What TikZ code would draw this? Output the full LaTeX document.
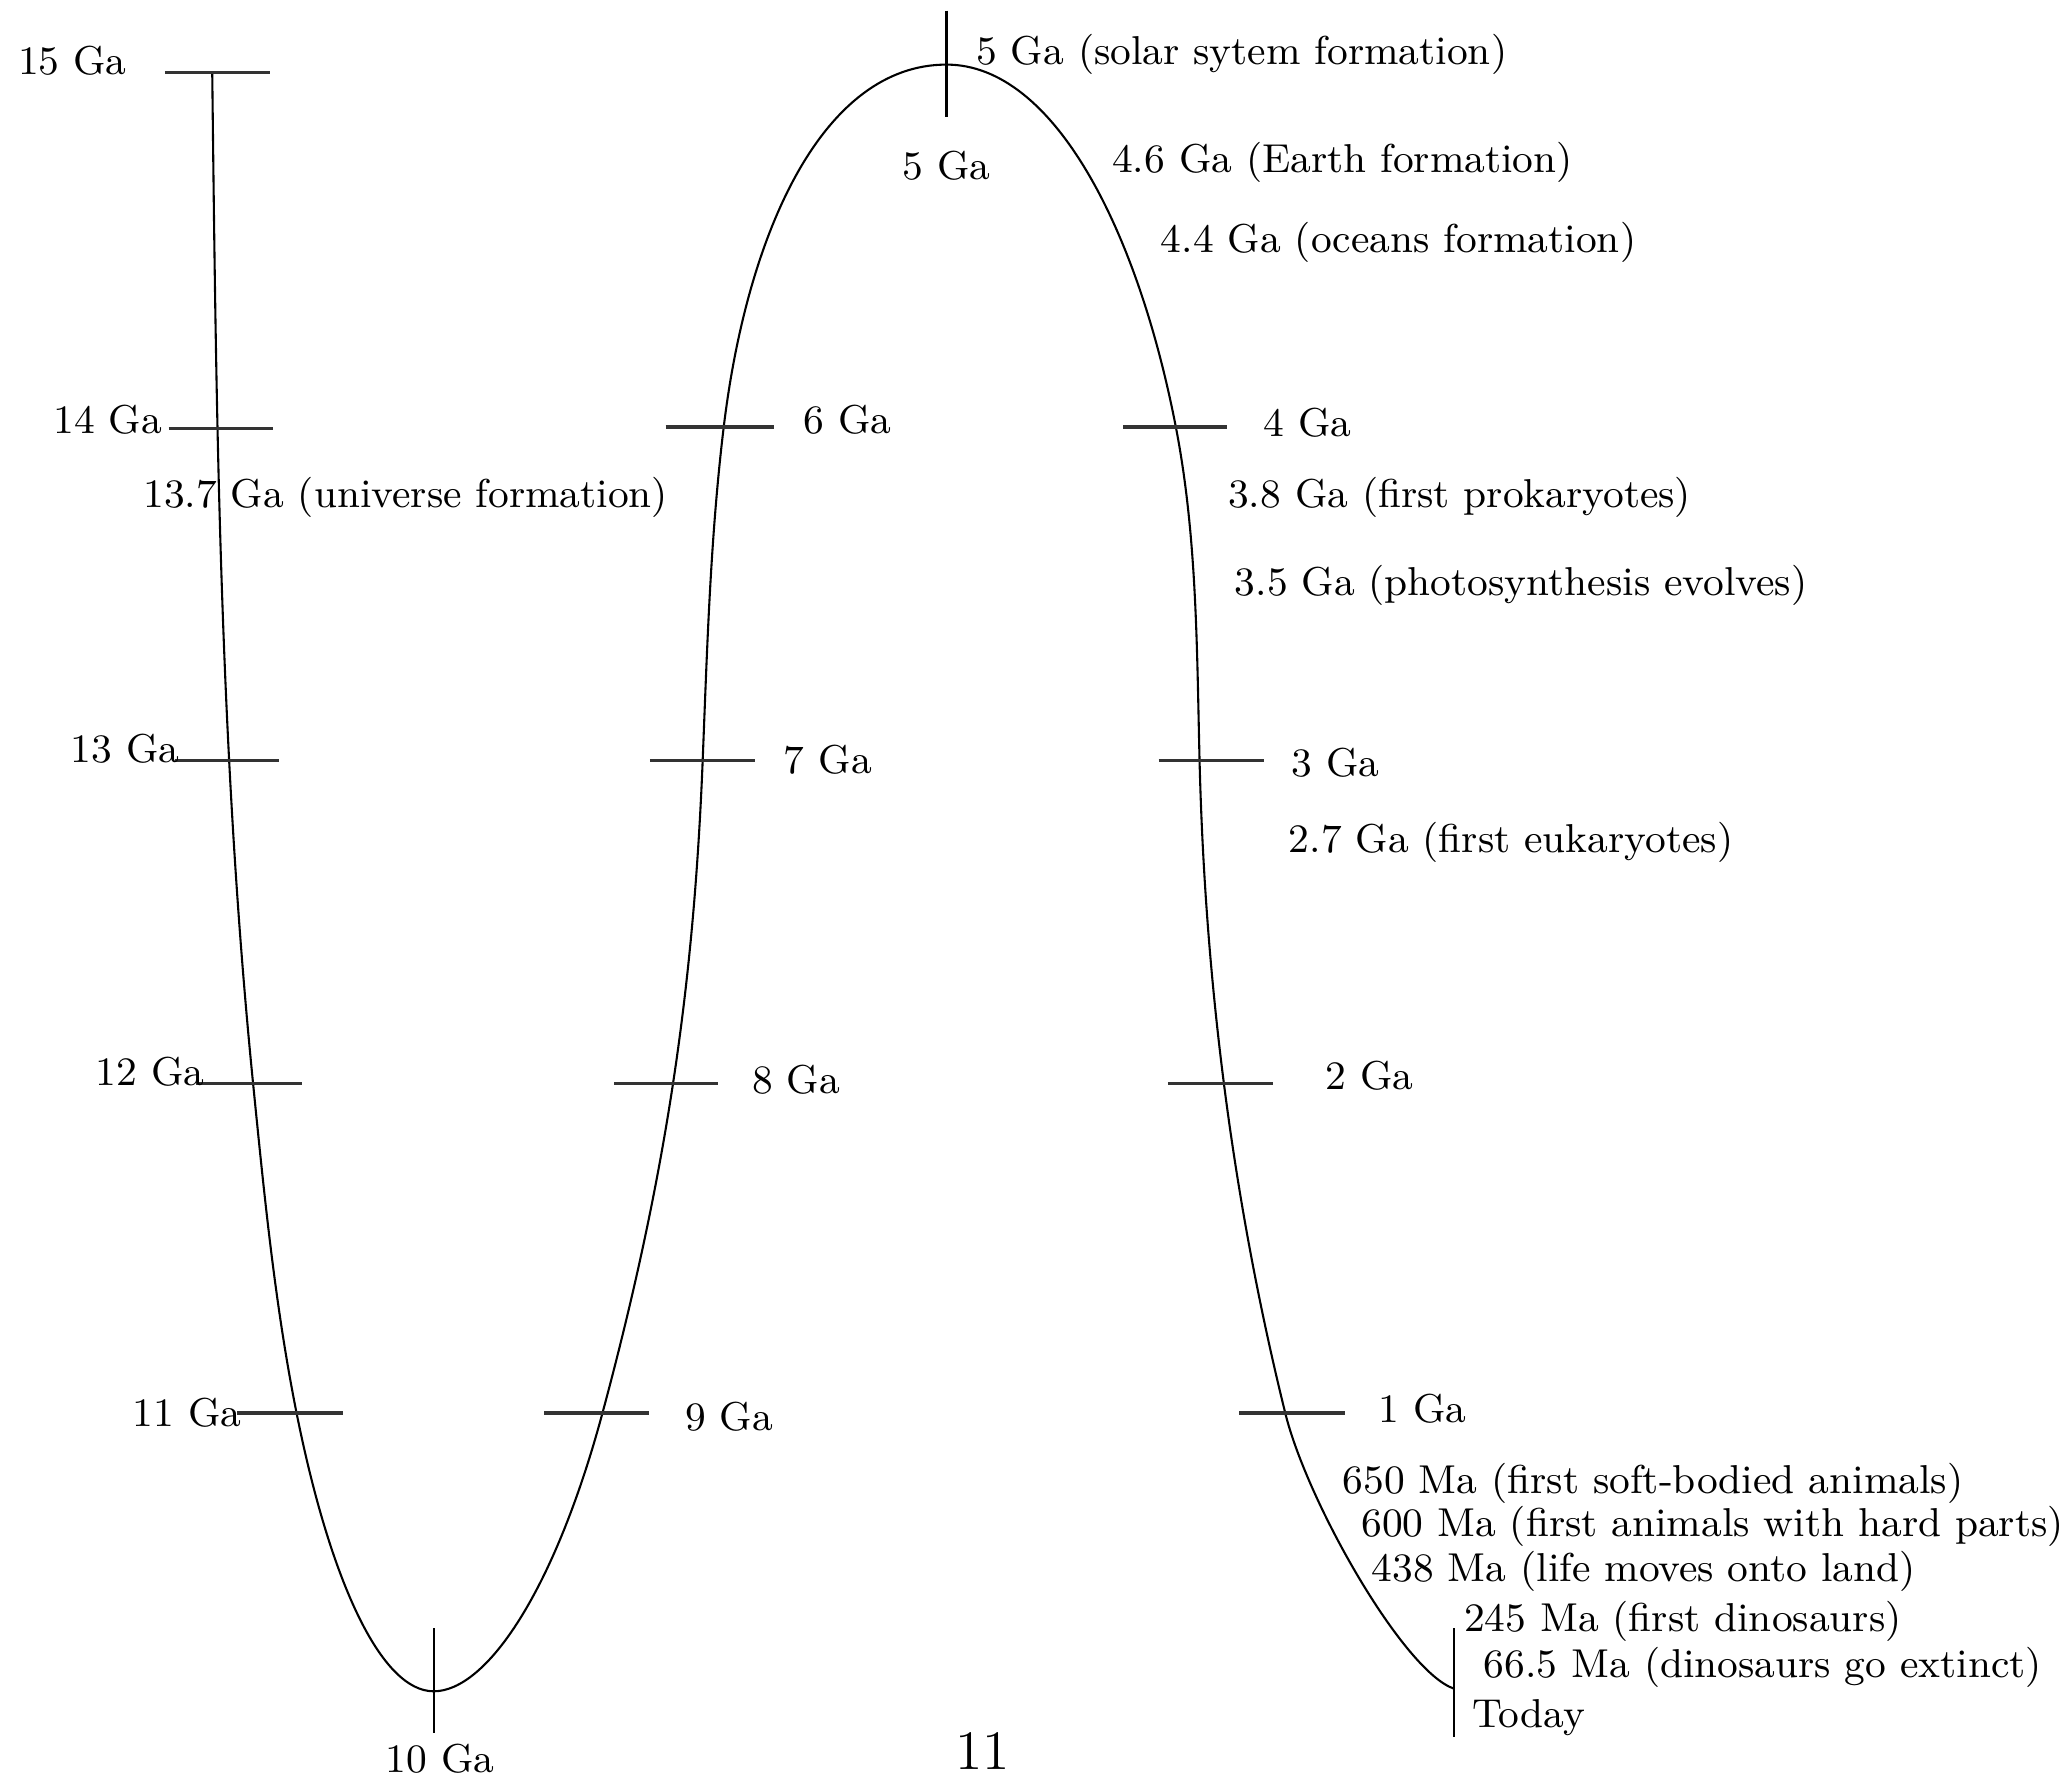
\documentclass[tikz,border=0pt]{standalone}
\begin{document}
\begin{tikzpicture}[x=0.01cm,y=-0.01cm,
  lbl/.style={inner sep=0pt, anchor=west, text height=0.7em, text depth=0.2em, font=\fontsize{8.7}{10}\selectfont},
  tickline/.style={line width=0.8pt, black!80},
  vtickline/.style={line width=0.45pt},
  curveline/.style={line width=0.45pt, line join=round}]
\useasboundingbox (0,0) rectangle (1568,1351);

% main timeline curve
\draw[curveline] (161,55) .. controls (164,310) and (166.5,567) .. (192,822)
  .. controls (200.4,906) and (208.6,990) .. (225,1072)
  .. controls (250.5,1199.4) and (289,1283) .. (329,1283)
  .. controls (369,1283) and (420.6,1207) .. (457,1072)
  .. controls (506.4,888.6) and (526.3,745) .. (533,578)
  .. controls (536.4,493) and (538.8,408.4) .. (549,324)
  .. controls (567.1,174) and (625,49) .. (718,49)
  .. controls (800,49) and (863.3,175.7) .. (892,324)
  .. controls (908.2,407.5) and (907.9,493) .. (910,578)
  .. controls (914.2,745) and (935,910) .. (975,1072)
  .. controls (991.8,1140) and (1065,1268.2) .. (1103,1281);

% horizontal ticks
\foreach \a/\b/\yy in {125/205/55, 128/207/325, 133/212/577, 149/229/822, 180/260/1072,
  413/492/1072, 466/545/822, 493/573/577, 505/587/324,
  852/931/324, 879/959/577, 886/966/822, 940/1020/1072}
  \draw[tickline] (\a,\yy) -- (\b,\yy);

% vertical ticks
\draw[vtickline] (718,8) -- (718,89);
\draw[vtickline] (329,1235) -- (329,1315);
\draw[vtickline] (1103,1235) -- (1103,1318);

% labels
\node[lbl] (g15) at (13,48) {15 Ga};
\node[lbl] (g14) at (40,320) {14 Ga};
\node[lbl] (g137) at (108,376) {13.7 Ga (universe formation)};
\node[lbl] (g13) at (53,570) {13 Ga};
\node[lbl] (g12) at (72,815) {12 Ga};
\node[lbl] (g11) at (100,1073) {11 Ga};
\node[lbl] (g10) at (292,1336) {10 Ga};
\node[lbl] (g9) at (519,1076) {9 Ga};
\node[lbl] (g8) at (570,821) {8 Ga};
\node[lbl] (g7) at (594,578) {7 Ga};
\node[lbl] (g6) at (609,320) {6 Ga};
\node[lbl] (g5) at (684,127) {5 Ga};
\node[lbl] (g5s) at (740,40) {5 Ga (solar sytem formation)};
\node[lbl] (g46) at (843,122) {4.6 Ga (Earth formation)};
\node[lbl] (g44) at (880,183) {4.4 Ga (oceans formation)};
\node[lbl] (g4) at (958,322) {4 Ga};
\node[lbl] (g38) at (931,376) {3.8 Ga (first prokaryotes)};
\node[lbl] (g35) at (936,443) {3.5 Ga (photosynthesis evolves)};
\node[lbl] (g3) at (979,580) {3 Ga};
\node[lbl] (g27) at (977,638) {2.7 Ga (first eukaryotes)};
\node[lbl] (g2) at (1005,818) {2 Ga};
\node[lbl] (g1) at (1045,1070) {1 Ga};
\node[lbl] (m650) at (1018,1124) {650 Ma (first soft-bodied animals)};
\node[lbl] (m600) at (1032,1157) {600 Ma (first animals with hard parts)};
\node[lbl] (m438) at (1040,1191) {438 Ma (life moves onto land)};
\node[lbl] (m245) at (1110,1229) {245 Ma (first dinosaurs)};
\node[lbl] (m665) at (1125,1264) {66.5 Ma (dinosaurs go extinct)};
\node[lbl] (today) at (1116,1302) {Today};
\node[inner sep=0pt, anchor=west, font=\fontsize{12}{14}\selectfont] (pg) at (724,1328) {11};
\end{tikzpicture}
\end{document}
